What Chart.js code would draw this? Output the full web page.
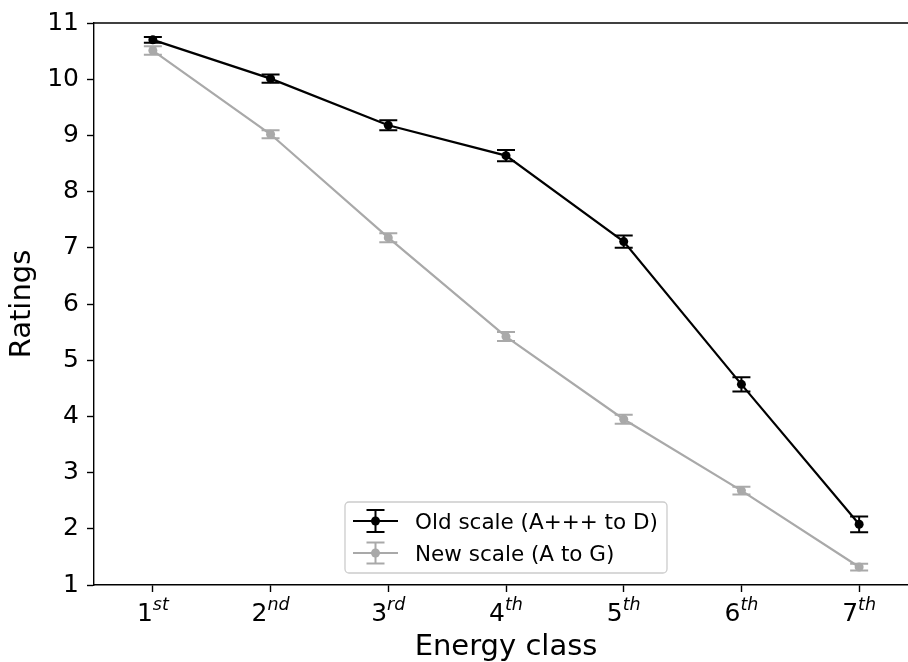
<!DOCTYPE html>
<html>
<head>
<meta charset="utf-8">
<script src="https://cdn.jsdelivr.net/npm/chart.js@4.4.1/dist/chart.umd.min.js"></script>
<style>
    html, body { margin: 0; padding: 0; background: #fff; overflow: hidden; }
</style>
</head>
<body>
<canvas id="chart" width="930" height="662"></canvas>
<script>
// energy classes and their ordinal suffixes (x axis)
const classes = [1, 2, 3, 4, 5, 6, 7];
const suffixes = ['st', 'nd', 'rd', 'th', 'th', 'th', 'th'];

// mean ratings and error half-widths
const oldScale = [10.70, 10.01, 9.18, 8.64, 7.11, 4.57, 2.08];
const oldErr = [0.05, 0.075, 0.09, 0.10, 0.11, 0.125, 0.14];
const newScale = [10.51, 9.02, 7.18, 5.42, 3.95, 2.68, 1.32];
const newErr = [0.075, 0.07, 0.08, 0.08, 0.08, 0.07, 0.06];

const yTicks = [1, 2, 3, 4, 5, 6, 7, 8, 9, 10, 11];

const FONT = 'DejaVu Sans';
const BLACK = '#000000';
const GRAY = '#a9a9a9';

const toPoints = (vals) => classes.map((c, i) => ({ x: c, y: vals[i] }));

// vertical error bars with caps, placed through the y scale
const errorBars = {
    id: 'errorBars',
    afterDatasetsDraw(chart) {
        const ctx = chart.ctx;
        const ys = chart.scales.y;
        const xs = chart.scales.x;
        [0, 1].forEach(i => {
            const ds = chart.data.datasets[i];
            ctx.save();
            ctx.strokeStyle = ds.borderColor;
            ctx.lineWidth = 2;
            ds.data.forEach((p, j) => {
                const x = xs.getPixelForValue(p.x);
                const top = ys.getPixelForValue(p.y + ds.errors[j]);
                const bot = ys.getPixelForValue(p.y - ds.errors[j]);
                ctx.beginPath();
                ctx.moveTo(x, top); ctx.lineTo(x, bot);
                ctx.moveTo(x - 9, top); ctx.lineTo(x + 9, top);
                ctx.moveTo(x - 9, bot); ctx.lineTo(x + 9, bot);
                ctx.stroke();
            });
            ctx.restore();
        });
    }
};

// top spine, ordinal tick labels and the legend box
const decorations = {
    id: 'decorations',
    afterDraw(chart) {
        const ctx = chart.ctx;
        const area = chart.chartArea;
        const xs = chart.scales.x;

        ctx.save();
        ctx.strokeStyle = BLACK;
        ctx.lineWidth = 1.4;
        ctx.beginPath();
        ctx.moveTo(area.left, area.top);
        ctx.lineTo(area.right, area.top);
        ctx.stroke();

        // x tick labels like 1^st
        ctx.fillStyle = BLACK;
        ctx.textBaseline = 'alphabetic';
        ctx.textAlign = 'left';
        classes.forEach((c, i) => {
            const x = xs.getPixelForValue(c);
            ctx.font = '25px "' + FONT + '"';
            const wNum = ctx.measureText(String(c)).width;
            ctx.font = 'italic 17.5px "' + FONT + '"';
            const wSup = ctx.measureText(suffixes[i]).width;
            const start = x - (wNum + wSup) / 2;
            ctx.font = '25px "' + FONT + '"';
            ctx.fillText(String(c), start, 621);
            ctx.font = 'italic 17.5px "' + FONT + '"';
            ctx.fillText(suffixes[i], start + wNum, 610);
        });

        // legend
        const bx = 345, by = 502, bw = 322, bh = 71, r = 4;
        ctx.beginPath();
        ctx.moveTo(bx + r, by);
        ctx.arcTo(bx + bw, by, bx + bw, by + bh, r);
        ctx.arcTo(bx + bw, by + bh, bx, by + bh, r);
        ctx.arcTo(bx, by + bh, bx, by, r);
        ctx.arcTo(bx, by, bx + bw, by, r);
        ctx.closePath();
        ctx.fillStyle = 'rgba(255,255,255,0.8)';
        ctx.fill();
        ctx.strokeStyle = '#cccccc';
        ctx.lineWidth = 1.3;
        ctx.stroke();

        const rows = [
            { ds: chart.data.datasets[0], y: 521, e: 11 },
            { ds: chart.data.datasets[1], y: 553, e: 10.5 }
        ];
        rows.forEach(row => {
            const col = row.ds.borderColor;
            ctx.strokeStyle = col;
            ctx.lineWidth = 2.2;
            ctx.beginPath();
            ctx.moveTo(353, row.y); ctx.lineTo(398, row.y);
            ctx.stroke();
            ctx.lineWidth = 2;
            ctx.beginPath();
            ctx.moveTo(375.5, row.y - row.e); ctx.lineTo(375.5, row.y + row.e);
            ctx.moveTo(366.5, row.y - row.e); ctx.lineTo(384.5, row.y - row.e);
            ctx.moveTo(366.5, row.y + row.e); ctx.lineTo(384.5, row.y + row.e);
            ctx.stroke();
            ctx.fillStyle = col;
            ctx.beginPath();
            ctx.arc(375.5, row.y, 4.5, 0, Math.PI * 2);
            ctx.fill();
            ctx.fillStyle = BLACK;
            ctx.font = '21.5px "' + FONT + '"';
            ctx.textBaseline = 'alphabetic';
            ctx.fillText(row.ds.label, 415, row.y + 8);
        });
        ctx.restore();
    }
};

new Chart(document.getElementById('chart'), {
    type: 'line',
    data: {
        datasets: [{
            label: 'Old scale (A+++ to D)',
            data: toPoints(oldScale),
            errors: oldErr,
            borderColor: BLACK,
            backgroundColor: BLACK,
            borderWidth: 2.2,
            pointRadius: 4.5,
            pointBorderWidth: 0,
            tension: 0,
            order: 2
        }, {
            label: 'New scale (A to G)',
            data: toPoints(newScale),
            errors: newErr,
            borderColor: GRAY,
            backgroundColor: GRAY,
            borderWidth: 2.2,
            pointRadius: 4.5,
            pointBorderWidth: 0,
            tension: 0,
            order: 1
        }]
    },
    options: {
        responsive: false,
        animation: false,
        devicePixelRatio: 1,
        layout: { padding: { top: 22, right: 12, left: 0, bottom: 0 } },
        plugins: {
            legend: { display: false },
            tooltip: { enabled: false }
        },
        scales: {
            x: {
                type: 'linear',
                min: 0.5,
                max: 7.5,
                afterBuildTicks: (s) => { s.ticks = classes.map(v => ({ value: v })); },
                afterFit: (s) => { s.height = 77; },
                ticks: { display: false },
                grid: { drawOnChartArea: false, tickLength: 7, tickColor: BLACK, tickWidth: 1.4 },
                border: { color: BLACK, width: 1.4 },
                title: {
                    display: true,
                    text: 'Energy class',
                    color: BLACK,
                    font: { family: FONT, size: 29 },
                    padding: { top: 0, bottom: -3 }
                }
            },
            y: {
                min: 1,
                max: 11,
                afterBuildTicks: (s) => { s.ticks = yTicks.map(v => ({ value: v })); },
                afterFit: (s) => { s.width = 94; },
                ticks: { color: BLACK, font: { family: FONT, size: 25 }, padding: 8 },
                grid: { drawOnChartArea: false, tickLength: 7, tickColor: BLACK, tickWidth: 1.4 },
                border: { color: BLACK, width: 1.4 },
                title: {
                    display: true,
                    text: 'Ratings',
                    color: BLACK,
                    font: { family: FONT, size: 29 },
                    padding: { top: 5, bottom: 0 }
                }
            }
        }
    },
    plugins: [errorBars, decorations]
});
</script>
</body>
</html>
